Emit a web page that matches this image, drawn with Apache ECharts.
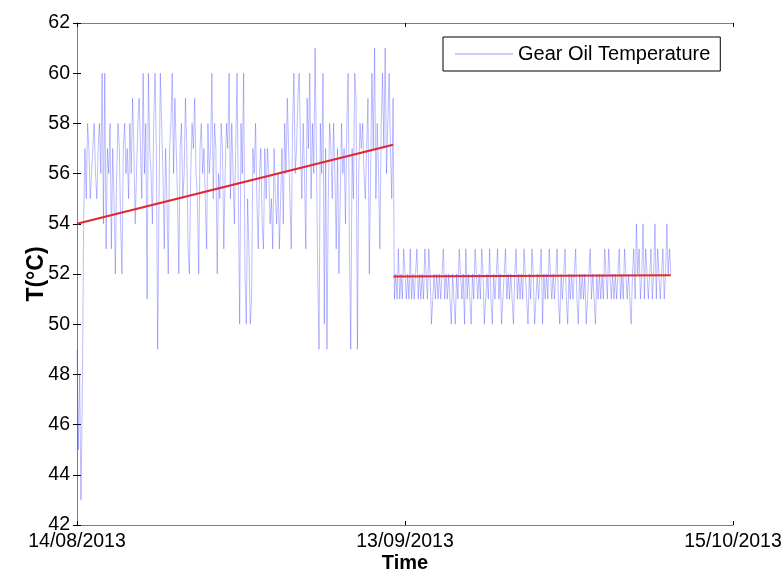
<!DOCTYPE html>
<html>
<head>
<meta charset="utf-8">
<script src="https://cdn.jsdelivr.net/npm/echarts@6/dist/echarts.min.js"></script>
<style>
html, body { margin: 0; padding: 0; background: #fff; }
#chart { width: 782px; height: 570px; }
</style>
</head>
<body>
<div id="chart"></div>
<script>
// x is in days counted from 14/08/2013
var xTickDays = [0, 31, 62];
var xTickLabels = ['14/08/2013', '13/09/2013', '15/10/2013'];
var stepDay = 0.125;

// readings before the change (14/08 -> 13/09)
var tempBefore = [
    49,45,48,43,47,54,57,55,58,57,55,56,57,58,56,55,57,58,56,60,54,60,53,57,
    56,58,53,57,55,52,56,58,57,54,52,57,58,56,57,55,58,56,59,57,54,56,58,59,
    57,55,60,56,58,51,60,57,56,54,58,60,57,49,55,60,58,56,53,57,55,52,57,58,
    60,56,59,57,55,52,57,58,55,56,59,57,53,52,56,58,57,59,56,55,52,57,58,56,
    57,55,53,58,56,57,60,55,58,57,52,56,55,58,57,53,56,58,57,60,55,58,56,54,
    57,60,55,50,58,56,60,52,50,55,53,50,51,57,56,58,55,53,56,57,54,53,57,55,
    57,56,54,55,53,57,55,54,56,53,55,57,54,58,56,59,57,55,53,58,60,56,57,59,
    60,57,55,58,56,53,59,57,60,55,58,56,61,57,52,49,58,56,60,50,57,49,55,58,
    57,55,58,56,53,57,52,55,58,56,57,54,58,60,53,49,57,55,60,59,49,56,58,57,
    58,56,55,57,59,52,56,60,57,61,55,58,56,53,58,60,57,61,56,58,60,57,55,59
];
// readings after the change (13/09 -> 09/10)
var tempAfter = [
    51,52,51,53,51,52,51,53,52,51,52,51,53,51,52,51,52,53,51,52,51,52,51,53,
    52,51,53,52,50,51,52,51,52,51,52,51,52,53,51,52,51,52,51,50,52,51,50,52,
    51,53,52,51,52,50,53,51,52,51,50,52,51,53,52,51,52,51,53,52,50,51,52,51,
    53,51,50,52,51,52,53,51,52,50,51,52,53,51,52,51,52,51,50,52,53,51,52,51,
    52,51,53,52,51,50,52,51,53,52,50,51,52,51,52,53,50,52,51,52,51,53,52,51,
    52,51,52,53,51,50,52,51,52,53,51,50,52,51,52,51,52,53,51,50,52,51,52,51,
    52,50,51,52,53,51,52,51,50,52,51,52,51,52,51,53,52,51,53,52,51,52,51,52,
    51,52,53,51,52,51,53,52,51,52,51,50,52,53,51,54,52,53,51,52,54,51,53,52,
    51,52,53,51,52,54,51,53,52,51,52,53,51,52,54,52,53,52
];
// fitted trend lines [day, temperature]
var trendBefore = [[0, 54.0], [29.875, 57.15]];
var trendAfter = [[29.9, 51.9], [56.125, 51.95]];

var temps = tempBefore.concat(tempAfter);
var seriesData = [];
for (var i = 0; i < temps.length; i++) {
    seriesData.push([i * stepDay, temps[i]]);
}

function dayLabel(v) {
    var k = xTickDays.indexOf(v);
    return k >= 0 ? xTickLabels[k] : '';
}

var dom = document.getElementById('chart');
var myChart = echarts.init(dom);
var font = 'Liberation Sans, Arial, sans-serif';
var axisLine = { show: true, lineStyle: { color: '#7f7f7f', width: 1 } };
var axisTick = { show: true, inside: true, length: 4, lineStyle: { color: '#000' } };

var option = {
    animation: false,
    grid: { left: 77, right: 49, top: 23, bottom: 45, outerBoundsMode: 'none' },
    legend: {
        data: [{ name: 'Gear Oil Temperature', icon: 'rect' }],
        left: 443,
        top: 37,
        padding: [7, 10, 7, 12],
        itemWidth: 58,
        itemHeight: 1,
        itemGap: 6,
        borderColor: '#000',
        borderWidth: 1,
        textStyle: { fontFamily: font, fontSize: 20, color: '#000' }
    },
    xAxis: [{
        type: 'value',
        min: 0, max: 62, interval: 31,
        axisLine: axisLine,
        axisTick: axisTick,
        splitLine: { show: false },
        axisLabel: { formatter: dayLabel, fontSize: 19.5, fontFamily: font, color: '#000', margin: 7 },
        name: 'Time',
        nameLocation: 'middle',
        nameGap: 28,
        nameMoveOverlap: false,
        nameTextStyle: { fontSize: 20, fontWeight: 'bold', fontFamily: font, color: '#000' }
    }, {
        type: 'value', position: 'top',
        min: 0, max: 62, interval: 31,
        axisLine: axisLine, axisTick: axisTick,
        axisLabel: { show: false }, splitLine: { show: false }
    }],
    yAxis: [{
        type: 'value',
        min: 42, max: 62, interval: 2,
        axisLine: axisLine,
        axisTick: axisTick,
        splitLine: { show: false },
        axisLabel: { fontSize: 19.5, fontFamily: font, color: '#000', margin: 7 },
        name: 'T(°C)',
        nameLocation: 'middle',
        nameGap: 29,
        nameMoveOverlap: false,
        nameTextStyle: { fontSize: 23, fontWeight: 'bold', fontFamily: font, color: '#000' }
    }, {
        type: 'value', position: 'right',
        min: 42, max: 62, interval: 2,
        axisLine: axisLine, axisTick: axisTick,
        axisLabel: { show: false }, splitLine: { show: false }
    }],
    series: [
        {
            name: 'Gear Oil Temperature',
            type: 'line',
            data: seriesData,
            showSymbol: false,
            itemStyle: { color: '#9a9aff' },
            lineStyle: { color: 'rgba(40,40,255,0.34)', width: 0.9 }
        },
        {
            name: 'trend1',
            type: 'line',
            data: trendBefore,
            showSymbol: false,
            lineStyle: { color: '#e0282e', width: 2.2 }
        },
        {
            name: 'trend2',
            type: 'line',
            data: trendAfter,
            showSymbol: false,
            lineStyle: { color: '#e0282e', width: 2.2 }
        }
    ]
};
myChart.setOption(option, true);
</script>
</body>
</html>
